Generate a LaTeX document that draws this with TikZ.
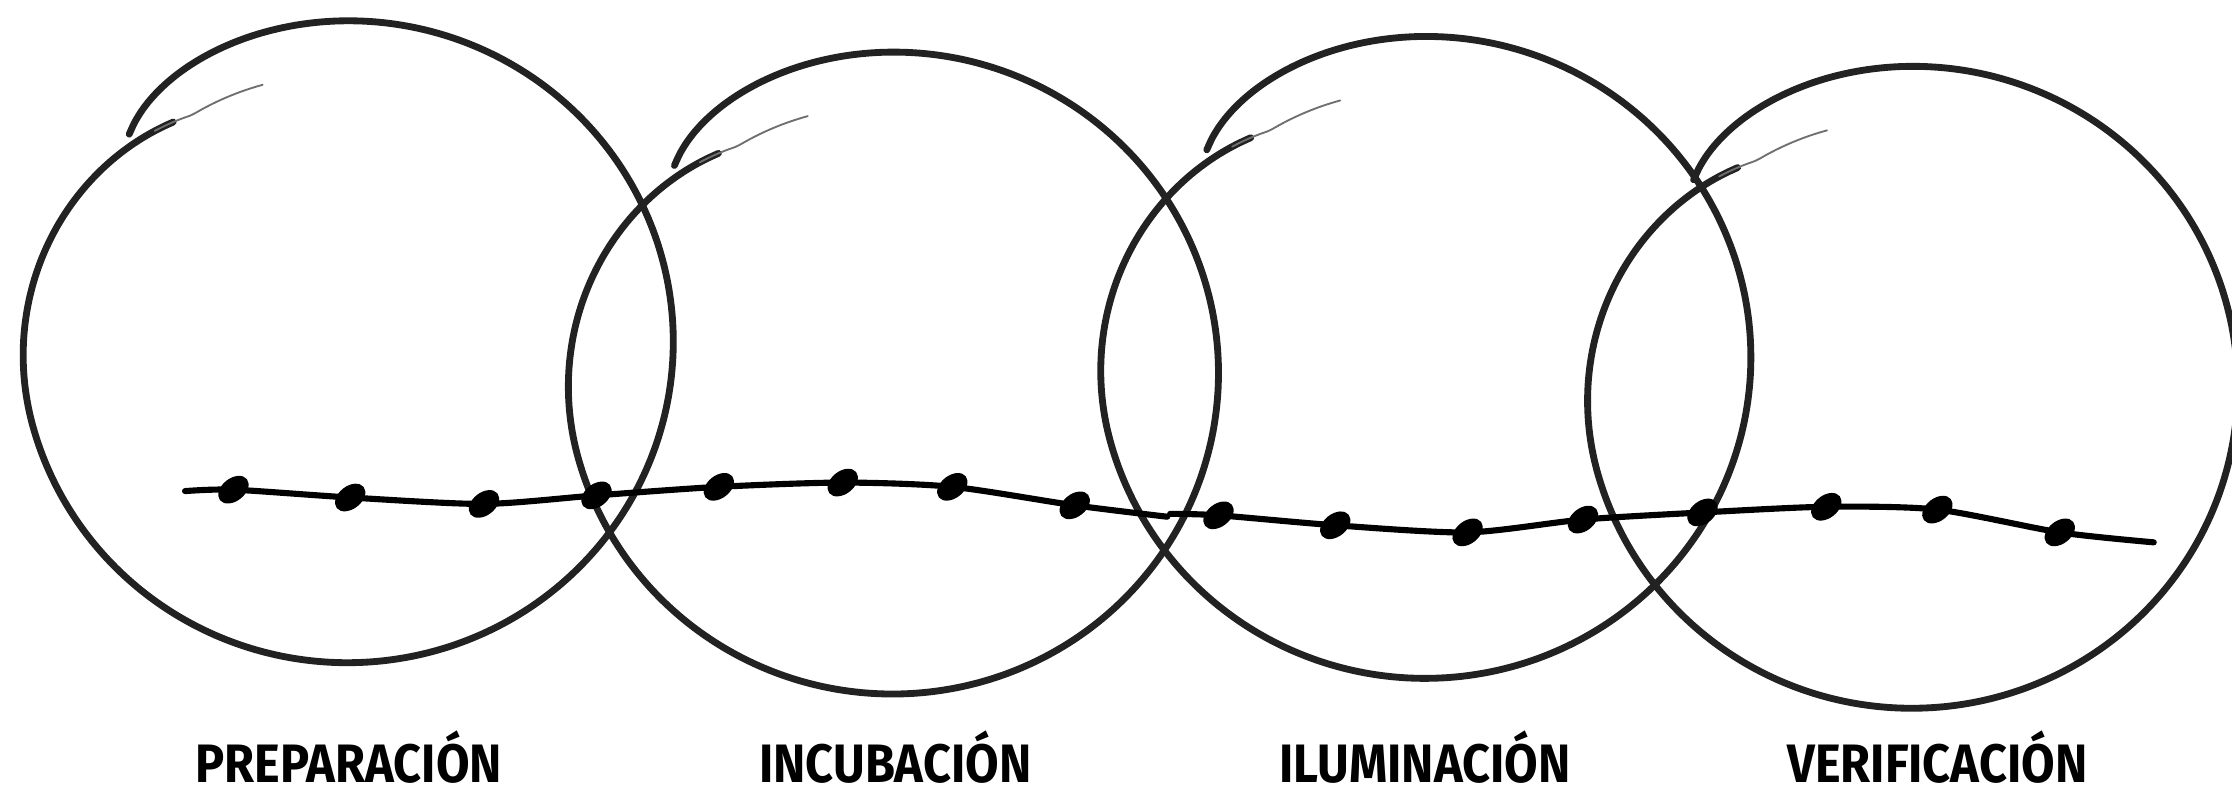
\documentclass[tikz,border=0pt]{standalone}
\usepackage{fontspec}
\setmainfont{Fira Sans}[FakeStretch=0.9]
\usetikzlibrary{shapes.geometric}
\definecolor{ink}{RGB}{34,34,34}
\tikzset{
  declare function={
    mm(\t)=min(1,max(0,(-165-\t)/71));
    rr(\t)=229-16*exp(-(136-\t)/10)-34*mm(\t)*mm(\t)-0.15*max(0,-236-\t);
  },
  ring/.style={draw=ink, line width=4.8pt, line cap=round, line join=round},
  ringfaint/.style={draw=ink!65, line width=1.3pt, line cap=round},
  wire/.style={draw=black, line width=4.3pt, line cap=round, line join=round},
  blob/.style={ellipse, fill=black, draw=none, minimum width=24pt, minimum height=16pt, inner sep=0pt, rotate=38},
  lab/.style={anchor=base, inner sep=0pt, font=\bfseries\fontsize{38}{38}\selectfont, text=black}
}
\newcommand{\ringshape}{%
  \draw[ring] plot[domain=136:-232, samples=160, smooth] ({244+rr(\x)*cos(\x)}, {240-0.985*rr(\x)*sin(\x)});%
  \draw[ringfaint] plot[domain=-228:-252, samples=20, smooth] ({244+rr(\x)*cos(\x)}, {240-0.985*rr(\x)*sin(\x)});%
}
\begin{document}
\begin{tikzpicture}[x=1pt, y=-1pt]
\fill[white] (0,0) rectangle (1568,557);
\useasboundingbox (0,0) rectangle (1568,557);

% rings
\foreach \dx/\dy in {0/0, 383/22, 757/11, 1099/32} {
  \begin{scope}[shift={(\dx,\dy)}]
    \ringshape
  \end{scope}
}

% first wire
\coordinate (s1) at (130,345);
\coordinate (a1) at (164,344);
\coordinate (a2) at (246,349.5);
\coordinate (a3) at (340,354);
\coordinate (a4) at (419,348);
\coordinate (a5) at (505,342);
\coordinate (a6) at (592,339);
\coordinate (a7) at (669,342);
\coordinate (a8) at (755,355);
\coordinate (e1) at (820,363);
\draw[wire] plot[smooth, tension=0.45] coordinates {(s1) (a1) (a2) (a3) (a4) (a5) (a6) (a7) (a8) (e1)};

% second wire
\coordinate (s2) at (822,361);
\coordinate (b1) at (856,362);
\coordinate (b2) at (938,369);
\coordinate (b3) at (1031,374);
\coordinate (b4) at (1112,365);
\coordinate (b5) at (1196,360);
\coordinate (b6) at (1283,356);
\coordinate (b7) at (1361,358);
\coordinate (b8) at (1447,374);
\coordinate (e2) at (1513,381);
\draw[wire] plot[smooth, tension=0.45] coordinates {(s2) (b1) (b2) (b3) (b4) (b5) (b6) (b7) (b8) (e2)};

% blobs
\foreach \p in {a1,a2,a3,a4,a5,a6,a7,a8,b1,b2,b3,b4,b5,b6,b7,b8} {
  \node[blob] (k\p) at (\p) {};
}

% labels
\node[lab] (lprep) at (245,550) {PREPARACIÓN};
\node[lab] (linc) at (629,550) {INCUBACIÓN};
\node[lab] (lilu) at (1001,550) {ILUMINACIÓN};
\node[lab] (lver) at (1361,550) {VERIFICACIÓN};
\end{tikzpicture}
\end{document}
